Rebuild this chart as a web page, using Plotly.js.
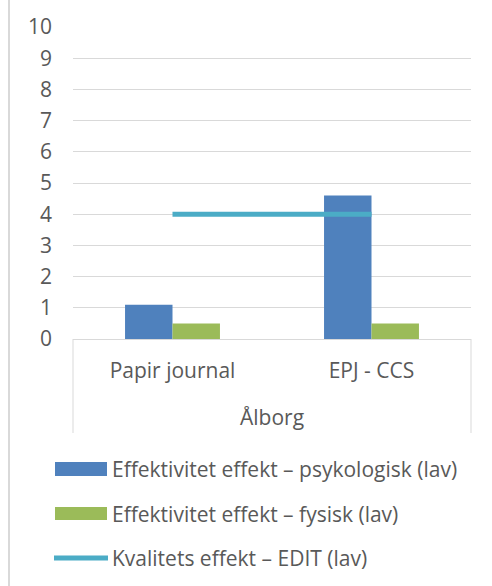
<!DOCTYPE html>
<html>
<head>
<meta charset="utf-8">
<script src="https://cdn.plot.ly/plotly-3.0.1.min.js"></script>
<style>html,body{margin:0;padding:0;background:#fff;}#chart{width:492px;height:586px;}</style>
</head>
<body>
<div id="chart"></div>
<script>
const categories = ["Papir journal", "EPJ - CCS"];
const groupLabel = "Ålborg";
const psykologisk = [1.1, 4.6];
const fysisk = [0.5, 0.5];
const edit = [4, 4];
const seriesNames = [
  "Effektivitet effekt – psykologisk (lav)",
  "Effektivitet effekt – fysisk (lav)",
  "Kvalitets effekt – EDIT (lav)"
];
const yTicks = [0,1,2,3,4,5,6,7,8,9,10];

const colors = ["#4F81BD", "#9BBB59", "#4BACC6"];
const textColor = "#595959";
const gridColor = "#D9D9D9";
const fontFam = "Open Sans, sans-serif";
const fs = 21;

const traces = [
  {type: "bar", x: categories, y: psykologisk, name: seriesNames[0], marker: {color: colors[0]}, hoverinfo: "none"},
  {type: "bar", x: categories, y: fysisk, name: seriesNames[1], marker: {color: colors[1]}, hoverinfo: "none"},
  {type: "scatter", mode: "lines", x: categories, y: edit, name: seriesNames[2], line: {color: colors[2], width: 5}, hoverinfo: "none"}
];

// pixel helpers (plot area: x 73..471, y 27..339)
const L = 73, R = 471, T = 27, B = 339;
const px = v => (v - L) / (R - L);
const py = v => (B - v) / (B - T);

const shapes = [
  {type: "line", xref: "paper", yref: "paper", x0: px(9), x1: px(9), y0: py(586), y1: py(0), line: {color: gridColor, width: 2}},
  {type: "line", xref: "paper", yref: "paper", x0: 0, x1: 0, y0: 0, y1: py(433), line: {color: gridColor, width: 1}},
  {type: "line", xref: "paper", yref: "paper", x0: 1, x1: 1, y0: 0, y1: py(433), line: {color: gridColor, width: 1}},
  {type: "rect", xref: "paper", yref: "paper", x0: px(55), x1: px(107), y0: py(476), y1: py(462), fillcolor: colors[0], line: {width: 0}},
  {type: "rect", xref: "paper", yref: "paper", x0: px(55), x1: px(107), y0: py(520), y1: py(507), fillcolor: colors[1], line: {width: 0}},
  {type: "line", xref: "paper", yref: "paper", x0: px(54), x1: px(108), y0: py(558), y1: py(558), line: {color: colors[2], width: 5}}
];

const legendY = [469, 514, 558];
const annotations = [
  {xref: "paper", yref: "paper", x: 0.5, y: py(417), text: groupLabel, showarrow: false, xanchor: "center", yanchor: "middle", font: {family: fontFam, size: fs, color: textColor}}
].concat(seriesNames.map((n, i) => ({
  xref: "paper", yref: "paper", x: px(110), y: py(legendY[i]), text: n, showarrow: false, xanchor: "left", yanchor: "middle",
  font: {family: fontFam, size: fs, color: textColor}
})));

const layout = {
  width: 492, height: 586,
  margin: {l: L, r: 492 - R, t: T, b: 586 - B, pad: 0},
  paper_bgcolor: "#fff", plot_bgcolor: "#fff",
  showlegend: false,
  barmode: "group", bargap: 0.523, bargroupgap: 0,
  font: {family: fontFam, size: fs, color: textColor},
  xaxis: {
    type: "category", showgrid: false, showline: true, linecolor: gridColor, linewidth: 1,
    ticks: "", ticklabelstandoff: 13, tickfont: {family: fontFam, size: fs, color: textColor}, fixedrange: true
  },
  yaxis: {
    range: [0, 10], tickvals: yTicks, ticktext: yTicks.map(String), showgrid: true, gridcolor: gridColor, gridwidth: 1,
    zeroline: false, showline: false, ticks: "", ticklabelstandoff: 20,
    tickfont: {family: fontFam, size: fs, color: textColor}, fixedrange: true
  },
  shapes: shapes,
  annotations: annotations
};

Plotly.newPlot("chart", traces, layout, {staticPlot: true, displayModeBar: false});
</script>
</body>
</html>
